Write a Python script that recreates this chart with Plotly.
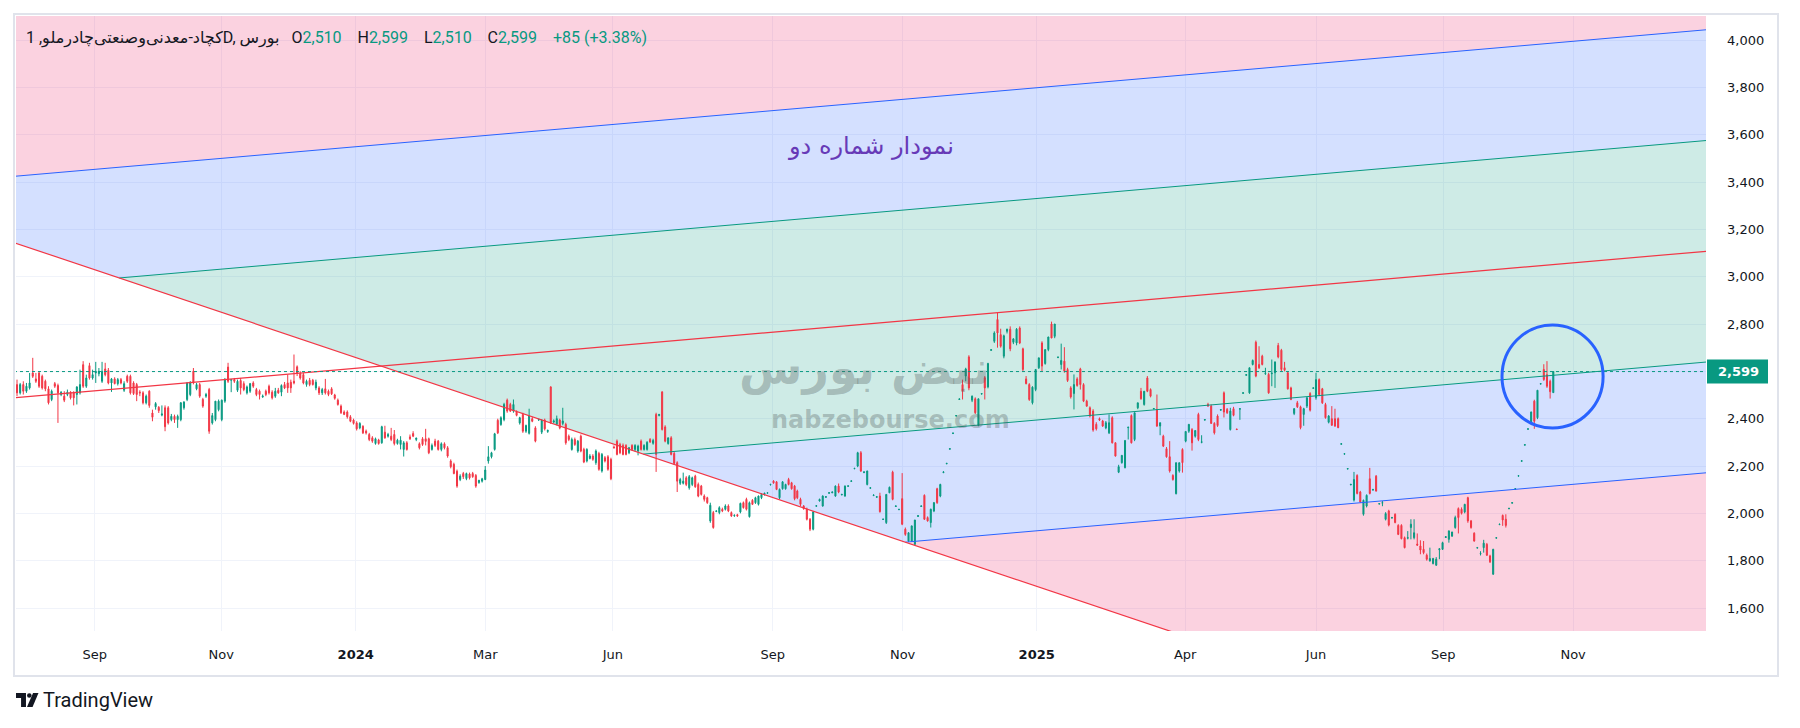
import plotly.graph_objects as go
import numpy as np

# ---------------- data (daily candles) ----------------
open_ = [
2544,2509,2544,2516,2530,2593,2568,2593,2579,2558,2526,2481,2548,2540,2502,2495,2502,2512,2509,2502,
2509,2628,2537,2624,2572,2593,2590,2558,2610,2604,2551,2568,2548,2565,2520,2579,2579,2551,2544,2512,
2509,2467,2516,2424,2450,2448,2415,2446,2446,2396,2410,2396,2396,2446,2481,2502,2600,2526,2544,2481,
2495,2523,2382,2396,2438,2396,2474,2618,2562,2565,2520,2561,2548,2509,2516,2551,2523,2516,2492,2516,
2537,2512,2495,
2520,2512,2544,2551,2554,2558,2619,2590,2586,2544,2562,2562,2530,2530,2509,2526,2516,2526,2500,2478,
2453,2428,2428,2408,2394,2382,2361,2368,2347,2333,2319,2295,2310,2298,2343,2326,2326,2333,2295,2291,
2270,2298,2323,2337,2312,2294,2315,2315,2315,2270,2305,2305,2270,2294,2277,2221,2207,2178,2143,2168,
2147,2166,2168,2160,2130,2136,2143,2221,2239,2270,2393,2375,2396,2478,2460,2432,2428,2382,2418,2347,
2338,2400,2361,
2395,2343,2394,2346,2534,2386,2376,2394,2380,2376,2326,2270,2312,2263,2326,2270,2221,2232,2242,2214,
2253,2179,2235,2239,2228,2280,2305,2291,2287,2287,2256,2287,2270,2263,2305,2270,2270,2312,
2296,2418,2413,2513,2365,2295,2319,2253,2214,2127,2127,2150,2108,2122,2157,2122,2115,2073,2066,
1968,2003,2008,2003,2017,2017,2031,2003,1990,1994,2006,2045,2059,1986,2055,2045,2038,2066,2080,2085,
2120,2136,2133,2066,2104,2104,2143,2129,2115,
2094,2059,2031,2017,1975,1933,2030,2052,2031,2068,2085,2087,2073,2115,2078,2073,2114,2135,2188,2200,
2256,2172,2122,2106,2075,2068,2073,1974,1961,2087,2174,2029,2015,2062,1933,1883,1883,1869,1987,2029,
2076,1982,1961,2010,2104,2073,2172,2209,2271,2337,2411,2481,2544,2580,2661,2478,2484,2371,2504,2573,
2534,2689,2727,2819,2755,2664,2769,2778,2723,2720,2783,2695,2568,2544,2467,2523,2615,2720,2633,2692,
2800,2748,
2658,2629,2643,2608,2530,2506,2568,2610,2544,2474,2446,2432,2376,2400,2390,2361,2340,2404,2298,2174,
2214,2193,2362,2413,2312,2446,2516,2460,2572,2523,2441,2439,2369,2326,2273,2239,2160,2083,2179,2270,
2305,2347,2354,2326,2418,2300,2394,2460,2453,2380,2411,2436,2509,2439,2354,2442,2356,2440,2507,2583,
2509,2629,2723,2629,2664,2590,2587,2590,2594,2709,2689,2615,2594,2530,2422,2467,2450,2418,2453,2506,
2528,
2488,2565,2526,2460,2385,2400,2400,2400,2292,2250,2187,2120,2056,2160,2090,1996,2031,2146,2098,2157,
2039,2043,1975,2010,1980,1996,1949,1949,1897,1895,1940,1897,1870,1862,1848,1823,1799,1788,1781,1846,
1848,1898,1890,1904,1940,2020,2017,2006,2066,1968,1916,1853,1828,1855,1869,1820,1743,1895,1952,1991,
1975,2019,2043,2102,2157,2220,2288,2355,2385,2474,2404,2546,2608,2586,2558,2510]

high = [
2565,2551,2558,2551,2593,2657,2593,2600,2586,2565,2537,2523,2555,2548,2516,2516,2523,2516,2516,2537,
2607,2643,2586,2636,2607,2640,2614,2640,2636,2614,2572,2575,2572,2572,2558,2586,2586,2558,2551,2520,
2516,2502,2520,2438,2470,2453,2456,2456,2453,2420,2417,2417,2470,2474,2555,2558,2614,2551,2551,2488,
2509,2530,2424,2474,2481,2481,2572,2636,2568,2572,2565,2572,2558,2540,2551,2558,2530,2523,2502,2523,
2544,2520,2530,
2530,2545,2555,2586,2565,2671,2625,2600,2593,2565,2572,2568,2565,2537,2530,2568,2523,2533,2505,2485,
2460,2435,2435,2415,2400,2389,2385,2372,2354,2340,2326,2320,2315,2370,2370,2340,2361,2352,2315,2326,
2305,2305,2333,2347,2320,2300,2322,2357,2320,2295,2315,2310,2300,2300,2284,2228,2214,2185,2165,2175,
2172,2172,2175,2166,2140,2150,2200,2284,2260,2340,2400,2410,2467,2485,2467,2481,2435,2408,2425,2375,
2442,2408,2368,
2400,2397,2400,2354,2537,2397,2413,2400,2446,2383,2333,2320,2320,2310,2333,2277,2275,2250,2250,2270,
2260,2255,2242,2246,2235,2287,2312,2298,2295,2292,2280,2292,2292,2290,2312,2292,2305,2318,
2315,2425,2420,2516,2372,2320,2326,2260,2220,2150,2172,2157,2162,2155,2163,2130,2120,2080,2070,
2045,2010,2012,2030,2024,2038,2038,2008,1995,1998,2045,2050,2066,2050,2060,2070,2075,2085,2087,2090,
2125,2140,2136,2105,2136,2125,2150,2133,2120,
2100,2066,2035,2024,1980,2010,2035,2062,2076,2073,2089,2092,2118,2126,2082,2118,2118,2139,2192,2260,
2263,2177,2180,2110,2080,2072,2087,1978,2080,2113,2180,2033,2018,2170,1940,1920,1947,1972,1992,2033,
2080,1987,2020,2048,2108,2125,2177,2213,2275,2341,2415,2486,2565,2615,2668,2498,2490,2484,2508,2580,
2636,2694,2769,2847,2780,2755,2780,2790,2740,2783,2790,2700,2580,2550,2537,2608,2657,2727,2692,2746,
2810,2800,
2662,2717,2702,2615,2537,2587,2575,2615,2550,2480,2452,2440,2385,2405,2395,2390,2418,2410,2300,2205,
2245,2308,2365,2418,2425,2467,2530,2516,2580,2528,2445,2502,2383,2332,2280,2305,2165,2214,2214,2275,
2346,2376,2360,2350,2425,2330,2398,2467,2460,2385,2418,2440,2515,2445,2446,2450,2358,2445,2512,2588,
2615,2650,2730,2706,2670,2615,2594,2650,2640,2720,2695,2640,2600,2535,2445,2475,2455,2446,2492,2512,
2532,
2594,2570,2530,2467,2415,2453,2442,2405,2296,2254,2191,2125,2175,2165,2095,2058,2080,2192,2103,2162,
2043,2052,2005,2015,1985,2000,1954,1954,1902,1925,1975,1975,1915,1886,1883,1830,1855,1812,1815,1852,
1880,1903,1926,1922,1990,2025,2025,2040,2070,1972,1920,1858,1840,1888,1875,1825,1850,1899,1956,1995,
1996,2023,2047,2106,2161,2224,2292,2359,2430,2480,2520,2550,2630,2643,2565,2599]

low = [
2495,2502,2502,2509,2523,2572,2551,2530,2523,2516,2460,2474,2530,2382,2495,2470,2495,2481,2456,2460,
2502,2530,2530,2565,2565,2551,2579,2551,2579,2545,2513,2545,2540,2545,2513,2551,2502,2500,2474,2495,
2460,2460,2446,2389,2438,2424,2410,2347,2375,2389,2382,2361,2389,2438,2474,2495,2545,2520,2488,2446,
2488,2336,2375,2389,2431,2389,2467,2551,2512,2551,2513,2502,2516,2502,2509,2530,2495,2481,2488,2495,
2502,2481,2488,
2505,2495,2525,2509,2509,2545,2580,2565,2545,2535,2537,2540,2520,2500,2500,2502,2495,2500,2480,2455,
2420,2415,2400,2385,2375,2350,2355,2335,2333,2305,2298,2290,2290,2294,2315,2320,2305,2287,2290,2270,
2240,2265,2310,2322,2305,2270,2285,2287,2250,2265,2280,2265,2262,2270,2235,2190,2165,2108,2136,2145,
2140,2143,2150,2108,2125,2130,2140,2210,2232,2265,2335,2370,2389,2425,2428,2425,2410,2375,2340,2340,
2333,2385,2300,
2390,2335,2350,2340,2378,2380,2372,2355,2372,2290,2305,2265,2285,2256,2258,2212,2215,2228,2222,2205,
2180,2172,2215,2180,2140,2274,2245,2250,2245,2245,2250,2265,2262,2245,2265,2265,2265,2298,
2290,2175,2410,2350,2300,2290,2245,2205,2090,2120,2122,2115,2100,2115,2108,2068,2075,2050,2040,
1960,1935,2005,1996,2005,2012,2005,1985,1985,1985,2000,2020,2012,1982,2035,2040,2033,2060,2075,2083,
2118,2125,2098,2060,2100,2100,2118,2100,2055,
2060,2030,2015,1970,1925,1928,2028,2050,2028,2066,2083,2085,2070,2085,2076,2070,2113,2134,2187,2195,
2175,2170,2118,2104,2073,2066,2003,1972,1955,2085,2055,2028,2014,1950,1905,1880,1880,1866,1985,2028,
1972,1965,1940,2005,2040,2068,2170,2208,2270,2336,2410,2480,2481,2558,2520,2470,2420,2368,2502,2481,
2528,2687,2720,2700,2700,2655,2760,2685,2715,2710,2715,2600,2545,2475,2460,2516,2610,2600,2628,2685,
2740,2740,
2656,2608,2594,2555,2485,2439,2535,2523,2470,2450,2405,2345,2350,2390,2365,2355,2335,2295,2240,2170,
2210,2190,2312,2295,2305,2440,2480,2455,2512,2490,2440,2365,2330,2280,2235,2172,2138,2080,2172,2172,
2300,2340,2265,2320,2305,2296,2392,2450,2378,2333,2365,2434,2405,2420,2350,2410,2352,2395,2506,2582,
2505,2625,2575,2610,2625,2585,2505,2537,2530,2655,2600,2600,2523,2478,2415,2445,2355,2370,2445,2430,
2526,
2480,2495,2462,2400,2380,2370,2365,2360,2290,2249,2186,2119,2050,2080,2045,1990,2025,2080,2097,2092,
2038,2030,1970,1945,1978,1958,1908,1890,1852,1890,1890,1890,1862,1827,1827,1800,1796,1784,1778,1806,
1845,1896,1876,1900,1935,1915,1995,2000,1960,1935,1880,1852,1822,1834,1820,1790,1740,1894,1951,1947,
1940,2018,2042,2101,2156,2219,2287,2354,2380,2357,2398,2545,2560,2530,2485,2510]

close = [
2509,2544,2516,2537,2551,2579,2558,2537,2530,2526,2467,2516,2537,2509,2512,2478,2512,2488,2488,2534,
2544,2537,2572,2572,2586,2600,2600,2600,2586,2551,2568,2548,2565,2551,2548,2558,2509,2506,2502,2509,
2467,2495,2456,2406,2464,2434,2420,2366,2382,2410,2396,2410,2467,2470,2551,2554,2551,2544,2495,2453,
2502,2347,2413,2474,2474,2478,2565,2558,2565,2558,2558,2530,2523,2534,2548,2537,2502,2502,2495,2502,
2509,2488,2516,
2509,2540,2530,2530,2530,2551,2591,2572,2551,2558,2544,2544,2554,2509,2523,2509,2502,2505,2486,2460,
2425,2418,2408,2389,2380,2357,2380,2340,2340,2312,2305,2315,2295,2366,2319,2333,2312,2295,2309,2309,
2298,2270,2315,2326,2318,2277,2291,2304,2256,2287,2287,2270,2294,2277,2242,2197,2168,2115,2157,2155,
2168,2150,2155,2115,2140,2146,2183,2239,2256,2336,2340,2404,2460,2432,2432,2460,2414,2404,2347,2371,
2411,2389,2305,
2397,2394,2357,2350,2383,2390,2400,2361,2390,2298,2312,2312,2291,2305,2263,2217,2270,2242,2228,2263,
2186,2249,2221,2186,2146,2277,2249,2256,2249,2249,2277,2270,2287,2284,2270,2287,2300,2301,
2308,2249,2418,2354,2305,2319,2249,2211,2136,2143,2136,2122,2155,2150,2112,2073,2080,2059,2045,
2034,1940,2010,2024,2010,2031,2010,1989,1992,1989,2042,2024,2017,2045,2038,2066,2073,2080,2085,2087,
2122,2129,2101,2101,2133,2122,2122,2104,2062,
2066,2038,2020,1975,1933,2006,2032,2059,2073,2070,2087,2090,2115,2090,2080,2115,2116,2137,2190,2256,
2179,2175,2179,2108,2077,2070,2007,1975,2080,2110,2059,2031,2017,1954,1911,1918,1947,1972,1990,2031,
1975,1968,2017,2045,2045,2122,2175,2211,2273,2339,2413,2483,2516,2610,2530,2495,2425,2484,2506,2530,
2633,2691,2762,2762,2706,2750,2778,2695,2737,2778,2720,2608,2548,2481,2533,2608,2657,2622,2692,2745,
2741,2800,
2660,2646,2601,2561,2492,2544,2540,2544,2474,2453,2411,2352,2357,2394,2369,2383,2383,2298,2242,2197,
2245,2308,2364,2298,2425,2467,2484,2516,2516,2495,2443,2369,2383,2284,2239,2179,2143,2214,2214,2214,
2346,2376,2298,2350,2312,2302,2396,2453,2380,2340,2371,2438,2428,2425,2432,2414,2354,2442,2509,2586,
2615,2646,2580,2615,2629,2592,2509,2592,2640,2661,2608,2605,2526,2481,2442,2450,2362,2442,2488,2436,
2530,
2565,2502,2467,2404,2411,2372,2369,2362,2294,2252,2189,2122,2143,2084,2048,2055,2076,2084,2101,2094,
2041,2045,1999,1951,1982,1961,1911,1893,1855,1897,1954,1918,1866,1845,1834,1806,1809,1809,1806,1850,
1876,1901,1926,1921,1982,1982,2000,2038,1968,1940,1883,1855,1830,1874,1823,1795,1848,1897,1954,1972,
1949,2021,2045,2104,2159,2222,2290,2357,2428,2389,2520,2548,2565,2537,2514,2599]

# candles come in six blocks; each block covers this
# stretch of the time scale, in trading-day numbers
block_sizes = [83, 83, 86, 82, 81, 76]
block_spans = [(0.0, 86.1), (87.1, 172.8), (173.9, 259.2), (260.1, 345.9), (347.0, 432.1), (433.0, 512.1)]

# month labels of the time scale (position = trading-day number)
tick_pos = [25.9, 68.1, 112.9, 156.1, 198.6, 251.9, 295.2, 339.9, 389.4, 433.0, 475.4, 518.7]
tick_text = ["Sep", "Nov", "<b>2024</b>", "Mar", "Jun", "Sep", "Nov", "<b>2025</b>",
             "Apr", "Jun", "Sep", "Nov"]
price_ticks = [1600, 1800, 2000, 2200, 2400, 2600, 2800, 3000, 3200, 3400, 3600, 3800, 4000]

symbol_name = "کچاد-معدنی\u200cوصنعتی\u200cچادرملو"
interval = "1D"
exchange = "بورس"
title_text = "نمودار شماره دو"

# pitchfork drawing (anchor price at day 0, slope per day, channel gap)
MED0, MED_SLOPE, GAP = 2489.0, 1.098, 468.0
DESC0, DESC_SLOPE = 3139.6, -4.26
# highlight circle (day / price bounds)
circle_box = dict(x0=495.0, x1=528.7, y0=2360.6, y1=2795.8)

# ---------------- styling ----------------
UP, DN = "#089981", "#f23645"
TXT = "#131722"
GRID = "#f0f3fa"
PINK_F = "rgba(233,30,99,0.2)"
BLUE_F = "rgba(41,98,255,0.2)"
GREEN_F = "rgba(8,153,129,0.2)"
BLUE_L, TEAL_L, RED_L = "#2962ff", "#089981", "#f23645"
WM = "rgba(80,90,90,0.32)"

# page geometry (page pixels); the html body adds an 8px margin
BODY = 8
W, H = 1800 - 2 * BODY, 728 - 2 * BODY
PL, PR, PT, PB = 16, 1706, 16, 631
X_RANGE = [-0.333, 563.0]
Y_RANGE = [1502.8, 4101.4]

assert sum(block_sizes) == len(close) == len(open_) == len(high) == len(low)
x = np.concatenate([np.linspace(a, b, n) for (a, b), n in zip(block_spans, block_sizes)])


def px(xp):  # page pixel -> paper x
    return (xp - PL) / (PR - PL)


def py(yp):  # page pixel -> paper y
    return (PB - yp) / (PB - PT)


fig = go.Figure()
fig.add_trace(go.Candlestick(
    x=x, open=open_, high=high, low=low, close=close,
    increasing=dict(line=dict(color=UP, width=1), fillcolor=UP),
    decreasing=dict(line=dict(color=DN, width=1), fillcolor=DN),
    whiskerwidth=0, showlegend=False, hoverinfo="skip"))


# ----- pitchfork geometry -----
def lp(i, off):
    return MED0 + MED_SLOPE * i + off


def dp(i):
    return DESC0 + DESC_SLOPE * i


def meet(off):
    i = (DESC0 - MED0 - off) / (MED_SLOPE - DESC_SLOPE)
    return (i, dp(i))


XL, XR, YT, YB = -5.0, 580.0, 4400.0, 1200.0
i_bot = (DESC0 - YB) / (-DESC_SLOPE)


def poly(pts):
    return "M " + " L ".join(f"{a:.4f},{b:.4f}" for a, b in pts) + " Z"


fills = [
    (PINK_F, [(XL, YT), (XR, YT), (XR, lp(XR, 2 * GAP)), (XL, lp(XL, 2 * GAP))]),
    (BLUE_F, [(XL, lp(XL, 2 * GAP)), (XR, lp(XR, 2 * GAP)), (XR, lp(XR, GAP)), meet(GAP), (XL, dp(XL))]),
    (GREEN_F, [meet(GAP), (XR, lp(XR, GAP)), (XR, lp(XR, -GAP)), meet(-GAP)]),
    (BLUE_F, [meet(-GAP), (XR, lp(XR, -GAP)), (XR, lp(XR, -2 * GAP)), meet(-2 * GAP)]),
    (PINK_F, [meet(-2 * GAP), (XR, lp(XR, -2 * GAP)), (XR, YB), (i_bot, YB)]),
]
shapes = []
for col, pts in fills:
    shapes.append(dict(type="path", path=poly(pts), xref="x", yref="y",
                       fillcolor=col, line=dict(width=0), layer="between"))


def seg(x0, y0, x1, y1, col, w=1.0, dash="solid"):
    shapes.append(dict(type="line", xref="x", yref="y", x0=x0, y0=y0, x1=x1, y1=y1,
                       line=dict(color=col, width=w, dash=dash), layer="above"))


seg(XL, lp(XL, 2 * GAP), XR, lp(XR, 2 * GAP), BLUE_L)
a = meet(GAP); seg(a[0], a[1], XR, lp(XR, GAP), TEAL_L)
seg(XL, lp(XL, 0), XR, lp(XR, 0), RED_L, 1.2)
a = meet(-GAP); seg(a[0], a[1], XR, lp(XR, -GAP), TEAL_L)
a = meet(-2 * GAP); seg(a[0], a[1], XR, lp(XR, -2 * GAP), BLUE_L)
seg(XL, dp(XL), i_bot, YB, RED_L, 1.2)

# last price dotted line
last = close[-1]
seg(XL, last, XR, last, UP, 1, "dot")

# circle highlight
shapes.append(dict(type="circle", xref="x", yref="y", **circle_box,
                   line=dict(color="#2962ff", width=3), layer="above"))

# outer border of the chart widget
shapes.append(dict(type="rect", xref="paper", yref="paper",
                   x0=px(14), x1=px(1778), y0=py(676), y1=py(14),
                   line=dict(color="#e0e3eb", width=2), layer="above"))
# price label box
yl = 40 + (4000 - last) * 0.23667
shapes.append(dict(type="rect", xref="paper", yref="paper",
                   x0=px(1707), x1=px(1768), y0=py(yl + 12), y1=py(yl - 12),
                   fillcolor=UP, line=dict(width=0), layer="above"))

# TradingView logo glyph
shapes.append(dict(type="path", xref="paper", yref="paper", fillcolor=TXT, line=dict(width=0),
                   path=poly([(px(16), py(693)), (px(26), py(693)), (px(26), py(707)), (px(21), py(707)),
                              (px(21), py(698)), (px(16), py(698))])))
shapes.append(dict(type="circle", xref="paper", yref="paper", fillcolor=TXT, line=dict(width=0),
                   x0=px(27), x1=px(31.6), y0=py(697.8), y1=py(693.2)))
shapes.append(dict(type="path", xref="paper", yref="paper", fillcolor=TXT, line=dict(width=0),
                   path=poly([(px(33), py(693)), (px(38.5), py(693)), (px(32.5), py(707)), (px(27), py(707))])))

# ----- text -----
prev = close[-2]
chg = last - prev
pct = chg / prev * 100
g = lambda s: f"<span style='color:{UP}'>{s}</span>"
sp = "\u00a0\u00a0\u00a0\u00a0"
header = (f"{symbol_name}, {interval}, {exchange}\u00a0\u00a0\u00a0O{g(f'{open_[-1]:,}')}{sp}H{g(f'{high[-1]:,}')}"
          f"{sp}L{g(f'{low[-1]:,}')}{sp}C{g(f'{close[-1]:,}')}{sp}{g(f'{chg:+,} ({pct:+.2f}%)')}")

annotations = [
    dict(text=header, xref="paper", yref="paper", x=px(24), y=py(38), xanchor="left", yanchor="middle",
         showarrow=False, font=dict(family="Roboto, DejaVu Sans", size=16, color=TXT)),
    dict(text=title_text, xref="paper", yref="paper", x=px(871), y=py(146), xanchor="center",
         yanchor="middle", showarrow=False, font=dict(family="DejaVu Sans", size=24, color="#673ab7")),
    dict(text="<b>نبض بورس</b>", xref="paper", yref="paper", x=px(737), y=py(368), xanchor="left",
         yanchor="middle", showarrow=False, font=dict(family="DejaVu Sans", size=46, color=WM)),
    dict(text="<b>nabzebourse.com</b>", xref="paper", yref="paper", x=px(890), y=py(420), xanchor="center",
         yanchor="middle", showarrow=False, font=dict(family="DejaVu Sans", size=24, color=WM)),
    dict(text=f"<b>{last:,}</b>", xref="paper", yref="paper", x=px(1738), y=py(yl), xanchor="center",
         yanchor="middle", showarrow=False, font=dict(family="DejaVu Sans", size=13, color="white")),
    dict(text="TradingView", xref="paper", yref="paper", x=px(41), y=py(700), xanchor="left",
         yanchor="middle", showarrow=False, font=dict(family="Roboto", size=20, color=TXT)),
]

fig.update_layout(
    width=W, height=H, autosize=False,
    margin=dict(l=PL - BODY, r=W - (PR - BODY), t=PT - BODY, b=H - (PB - BODY), pad=0),
    paper_bgcolor="white", plot_bgcolor="white",
    shapes=shapes, annotations=annotations, hovermode=False, showlegend=False,
    boxgap=0.45,
    xaxis=dict(range=X_RANGE, type="linear", rangeslider=dict(visible=False),
               tickmode="array", tickvals=tick_pos, ticktext=tick_text,
               showgrid=True, gridcolor=GRID, gridwidth=1, zeroline=False, showline=False,
               ticks="", ticklen=0, ticklabelstandoff=14,
               tickfont=dict(family="DejaVu Sans", size=13, color=TXT), fixedrange=True),
    yaxis=dict(range=Y_RANGE, side="right", tickmode="array", tickvals=price_ticks,
               ticktext=["" if v == 2600 else f"{v:,}" for v in price_ticks],
               showgrid=True, gridcolor=GRID, gridwidth=1, zeroline=False, showline=False,
               ticks="", ticklen=0, ticklabelstandoff=20,
               tickfont=dict(family="DejaVu Sans", size=13, color=TXT), fixedrange=True),
)

fig.write_html("out.html")
